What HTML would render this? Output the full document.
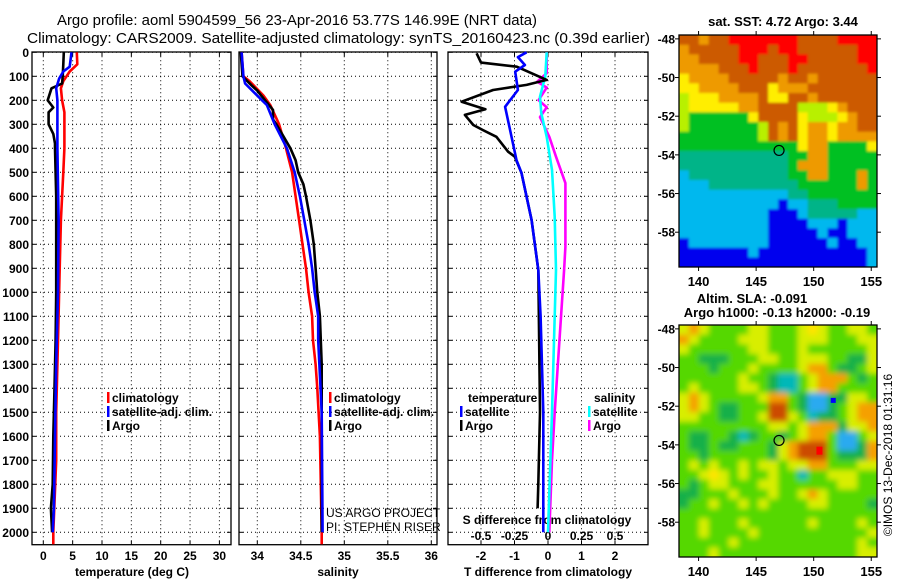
<!DOCTYPE html>
<html><head><meta charset="utf-8"><style>
html,body{margin:0;padding:0;background:#fff;}
svg{display:block;font-family:"Liberation Sans",Arial,sans-serif;}
.t{font-weight:bold;font-size:12px;fill:#000;}
</style></head><body>
<svg id="chart" width="900" height="580" viewBox="0 0 900 580" xmlns="http://www.w3.org/2000/svg">
<defs>
<filter id="blurS" x="-5%" y="-5%" width="110%" height="110%"><feGaussianBlur stdDeviation="1.2"/></filter>
<filter id="blurL" x="-5%" y="-5%" width="110%" height="110%"><feGaussianBlur stdDeviation="3"/></filter>
<clipPath id="clip1"><rect x="679" y="35" width="198" height="232"/></clipPath>
<clipPath id="clip2"><rect x="679" y="325" width="198" height="232"/></clipPath>
</defs>
<rect width="900" height="580" fill="#fff"/>
<text x="57" y="25" font-size="15" textLength="480" lengthAdjust="spacingAndGlyphs">Argo profile: aoml 5904599_56 23-Apr-2016 53.77S 146.99E (NRT data)</text>
<text x="27" y="43" font-size="15" textLength="623" lengthAdjust="spacingAndGlyphs">Climatology: CARS2009. Satellite-adjusted climatology: synTS_20160423.nc (0.39d earlier)</text>
<g id="g"></g>
</svg>
<script>
// ---- data ----
const depthTicks=[0,100,200,300,400,500,600,700,800,900,1000,1100,1200,1300,1400,1500,1600,1700,1800,1900,2000];
const tTicks=[0,5,10,15,20,25,30];
const sTicks=[34,34.5,35,35.5,36];
const dtTicks=[-2,-1,0,1,2];
const dsTicks=[-0.5,-0.25,0,0.25,0.5];
const dsTickLabels=["-0.5","-0.25","0","0.25","0.5"];

const argoTdepth=[0,50,100,130,150,180,200,230,250,280,300,340,380,400,600,800,1000,1200,1400,1600,1800,1900,2000];
const argoT=[3.5,3.4,3.3,3.2,1.4,1.0,0.75,1.7,0.9,0.9,0.9,1.7,2.0,2.0,2.2,2.2,2.2,2.1,1.9,1.7,1.6,1.3,1.5];
const climTdepth=[0,50,80,120,150,200,250,400,500,700,900,1200,1500,1700,2000,2050];
const climT=[5.7,5.8,4.5,3.4,3.0,3.2,3.6,3.6,3.4,3.0,2.8,2.5,2.2,2.2,1.7,1.7];
const satTdepth=[0,60,80,110,150,200,400,700,1000,1300,1600,1900,2000];
const satT=[4.8,4.5,3.4,2.7,2.2,2.4,2.4,2.6,2.5,2.2,2.0,1.8,1.6];

const climSdepth=[0,100,120,180,220,300,400,500,600,700,800,900,1000,1100,1200,1300,1400,1600,2000,2050];
const climS=[33.82,33.84,33.91,34.07,34.15,34.25,34.33,34.40,34.44,34.48,34.52,34.56,34.59,34.63,34.64,34.67,34.69,34.72,34.74,34.74];
const satSdepth=[0,100,130,170,220,300,400,500,600,700,800,900,1000,1100,1200,1500,2000];
const satS=[33.82,33.84,33.86,33.97,34.11,34.20,34.34,34.43,34.49,34.54,34.59,34.63,34.66,34.70,34.70,34.74,34.75];
const argoSdepth=[0,100,140,160,200,240,280,300,350,400,450,500,550,600,700,800,900,1000,1100,1300,1500,2000];
const argoS=[33.81,33.83,33.94,34.00,34.09,34.18,34.18,34.22,34.30,34.38,34.44,34.47,34.53,34.56,34.61,34.65,34.67,34.69,34.72,34.74,34.74,34.74];

const dTargoDepth=[4,43,60,115,136,157,206,237,261,303,324,352,414,435,503,699,907,1500,1800,1900];
const dTargo=[-2.13,-2.0,-0.93,-0.04,-0.64,-1.64,-2.58,-1.87,-2.48,-2.23,-1.94,-1.54,-1.19,-0.99,-0.79,-0.49,-0.29,-0.24,-0.29,-0.31];
const dTsatDepth=[0,20,53,81,157,227,324,449,503,699,907,1100,1500,2000];
const dTsat=[-0.64,-0.9,-0.69,-0.98,-0.9,-1.28,-1.13,-0.94,-0.79,-0.49,-0.29,-0.22,-0.14,-0.14];
const dSsatDepth=[0,100,185,254,352,490,685,907,1500,2000];
const dSsat=[-0.01,-0.02,-0.06,-0.05,-0.01,0.03,0.05,0.06,0.03,0.0];
const dSargoDepth=[0,87,122,147,199,229,270,352,435,545,810,907,1500,1700,2000];
const dSargo=[-0.01,-0.01,-0.08,-0.01,-0.07,-0.01,-0.06,0.01,0.06,0.13,0.13,0.12,0.05,0.03,0.01];

const lonTicks=[140,145,150,155];
const latTicks=[-48,-50,-52,-54,-56,-58];
const floatLon=146.99, floatLat=-53.77;
const sstRows=[
"ooaoorrrrrrroooorrrr","aooooorrrorroooooorr","aaoooorrooorrooooorr","aaaaooorooorooooooor",
"yaaaaoooooaooaoooooo","yyaaaaoooyaaaooooooo","lyyyaaaaoyyooaoooooo","lyyyyyaaoooolllyaooo",
"lggggggyooooylllyaoo","lgggggggloaoyaayaaoo","ggggggggloaoyaayaaaa","ggggggggggggyaaggggy",
"tttttttttttggaaggggg","tttttttttttgaaaggggg","cttttttttttggaagggag","ccctttttttttggggggag",
"cccccccccccttggggggg","ccccccccccbcctttgggg","cccccccccbbbctttttcc","cccccccccbbbbcccbccc",
"cccccccccbbbbbcbbccc","bccccccccbbbbbbcbbcc","bbbbbbbcbbbbbbbbbbbc","bbbbbbbbbbbbbbbbbbbc"];
const slaRows=[
"yoyggggyygggyYyggyyg","oyggggyyygggyyygggyy","yggggggyygggyggggggy","ggdddgggyyggyyyggddy",
"gggdgggyggggyoogddgy","ggggggyggdccgyooogdg","gyggggyygdccgyoogggg","yoygggggyoogdbbddyyg",
"yoygddgggrrgdbbdgyoo","yyggddggyrrygcddgyoo","gggggggggyygyooodyyo","gddggdcdggdgyoogbbgy",
"gddgddgggdyorrrgbbdo","ggdggggggdyorrrgdddo","gygyggygyygyyoogggyy","ggyYygyggyggcggyyygg",
"gdgyygggyyggggggyygg","ddgggygggyggyoyggggg","dggyggygyggggyyggggd","gggggggggggggggggggg",
"ggygggyggggggyggggyg","ggyggggygggggggggggy","gggggyggggggggggggyg","gggyggggggggggggggyy"];
const slaBlueDot=[151.7,-51.7], slaRedDot=[150.5,-54.3];

// ---- drawing ----
const NS="http://www.w3.org/2000/svg";
const G=document.getElementById('g');
function el(tag,attrs,parent){const e=document.createElementNS(NS,tag);for(const k in attrs)e.setAttribute(k,attrs[k]);(parent||G).appendChild(e);return e;}
const Y0=52.3, Yb=545, yD=d=>Y0+d*0.24;
const xT=t=>43.3+t*5.87, xS=s=>257.3+(s-34)*87, xdT=t=>548+t*33.5, xdS=s=>548+s*134;
const panels=[{x0:32,x1:231,name:'temperature-panel'},{x0:239,x1:437,name:'salinity-panel'},{x0:448,x1:648,name:'difference-panel'}];
function grid(p,xs){
  depthTicks.forEach(d=>{const l=el('line',{x1:p.x0,x2:p.x1,y1:yD(d),y2:yD(d),stroke:'#000','stroke-width':1,'stroke-dasharray':'1,3'});
  
  el('line',{x1:p.x0,x2:p.x0+4,y1:yD(d),y2:yD(d),stroke:'#000'});el('line',{x1:p.x1-4,x2:p.x1,y1:yD(d),y2:yD(d),stroke:'#000'});});
  xs.forEach(x=>{const l=el('line',{x1:x,x2:x,y1:Y0,y2:Yb,stroke:'#000','stroke-width':1,'stroke-dasharray':'1,3'});
  
  el('line',{x1:x,x2:x,y1:Yb-4,y2:Yb,stroke:'#000'});el('line',{x1:x,x2:x,y1:Y0,y2:Y0+4,stroke:'#000'});});
  const r=el('rect',{x:p.x0,y:Y0-0.3,width:p.x1-p.x0,height:Yb-Y0,fill:'none',stroke:'#000','stroke-width':1.3});
  
}
grid(panels[0],tTicks.map(xT));grid(panels[1],sTicks.map(xS));grid(panels[2],dtTicks.map(xdT));
function txt(x,y,s,anchor,name,extra){const t=el('text',Object.assign({x:x,y:y,'text-anchor':anchor||'middle',class:'t'},extra||{}));t.textContent=s;
  return t;}
depthTicks.forEach(d=>txt(29,yD(d)+4.5,String(d),'end','depth-tick-label'));
tTicks.forEach(t=>txt(xT(t),560,String(t),'middle','temperature-tick-label'));
sTicks.forEach(s=>txt(xS(s),560,String(s),'middle','salinity-tick-label'));
dtTicks.forEach(t=>txt(xdT(t),560,String(t),'middle','t-diff-tick-label'));
dsTicks.forEach((s,i)=>txt(xdS(s),540,dsTickLabels[i],'middle','s-diff-tick-label'));
txt(132,576,'temperature (deg C)','middle','x-axis-title-temperature');
txt(338,576,'salinity','middle','x-axis-title-salinity');
txt(548,576,'T difference from climatology','middle','x-axis-title-t-diff');
txt(547,524,'S difference from climatology','middle','x-axis-title-s-diff');
function line(xs,ds,fx,col,name){const pts=xs.map((v,i)=>fx(v).toFixed(1)+','+yD(ds[i]).toFixed(1)).join(' ');
  const p=el('polyline',{points:pts,fill:'none',stroke:col,'stroke-width':2.6,'stroke-linejoin':'round'});
  }
line(climT,climTdepth,xT,'#ff0000','climatology-temperature-line');
line(argoT,argoTdepth,xT,'#000','argo-temperature-line');
line(satT,satTdepth,xT,'#0000ff','satellite-temperature-line');
line(climS,climSdepth,xS,'#ff0000','climatology-salinity-line');
line(argoS,argoSdepth,xS,'#000','argo-salinity-line');
line(satS,satSdepth,xS,'#0000ff','satellite-salinity-line');
line(dSargo,dSargoDepth,xdS,'#ff00ff','argo-s-diff-line');
line(dSsat,dSsatDepth,xdS,'#00ffff','satellite-s-diff-line');
line(dTargo,dTargoDepth,xdT,'#000','argo-t-diff-line');
line(dTsat,dTsatDepth,xdT,'#0000ff','satellite-t-diff-line');
function legend(x,y,col,label,name){const g=el('g',{});
  el('rect',{x:x,y:y-10,width:2.5,height:11,fill:col},g);const t=el('text',{x:x+5,y:y,class:'t'},g);t.textContent=label;}
[[107,'#ff0000','climatology'],[107,'#0000ff','satellite-adj. clim.'],[107,'#000','Argo']].forEach((a,i)=>legend(a[0],402+i*14,a[1],a[2],'legend-entry'));
[[329,'#ff0000','climatology'],[329,'#0000ff','satellite-adj. clim.'],[329,'#000','Argo']].forEach((a,i)=>legend(a[0],402+i*14,a[1],a[2],'legend-entry'));
txt(468,402,'temperature','start','legend-title-temperature');
legend(460,416,'#0000ff','satellite','legend-entry');legend(460,430,'#000','Argo','legend-entry');
txt(594,402,'salinity','start','legend-title-salinity');
legend(588,416,'#00ffff','satellite','legend-entry');legend(588,430,'#ff00ff','Argo','legend-entry');
txt(326,517,'US ARGO PROJECT','start','credit-project',{style:'font-weight:normal'});
txt(326,531,'PI: STEPHEN RISER','start','credit-pi',{style:'font-weight:normal'});

// maps
const lonMin=138.3,lonMax=155.5,latTop=-47.8,latBot=-59.8;
const sstPal={r:'#ff0000',o:'#cc5a00',a:'#ee9a00',y:'#ffee00',l:'#b8f000',g:'#00c020',t:'#00b488',c:'#00b8ee',b:'#0000ee'};
const slaPal={g:'#55d800',d:'#18b048',y:'#d8ee00',Y:'#ffe400',o:'#f5a000',r:'#cc4c00',c:'#00b8b8',b:'#2aaaf0'};
function map(x0,y0,w,h,rows,pal,name,filt,clip){
  const gx=lon=>x0+(lon-lonMin)/(lonMax-lonMin)*w, gy=lat=>y0+(latTop-lat)/(latTop-latBot)*h;
  const outer=el('g',{'clip-path':'url(#'+clip+')'});
  const g=el('g',{filter:'url(#'+filt+')'},outer);
  const nr=rows.length,nc=rows[0].length,cw=w/nc,ch=h/nr;
  rows.forEach((row,i)=>{for(let j=0;j<nc;j++){
    const ex=(j===0?-8:0), ey=(i===0?-8:0), ew=(j===nc-1?8:0), eh=(i===nr-1?8:0);
    const c=el('rect',{x:(x0+j*cw+ex).toFixed(1),y:(y0+i*ch+ey).toFixed(1),width:(cw+0.6-ex+ew).toFixed(1),height:(ch+0.6-ey+eh).toFixed(1),fill:pal[row[j]]},g);
    }});
  el('rect',{x:x0,y:y0,width:w,height:h,fill:'none',stroke:'#000','stroke-width':1.3});
  lonTicks.forEach(l=>{const x=gx(l);el('line',{x1:x,x2:x,y1:y0-4,y2:y0,stroke:'#000'});el('line',{x1:x,x2:x,y1:y0+h,y2:y0+h+4,stroke:'#000'});
    txt(x,y0+h+19,String(l),'middle','map-lon-label',{style:'font-size:13px'});});
  latTicks.forEach(l=>{const y=gy(l);el('line',{x1:x0-4,x2:x0,y1:y,y2:y,stroke:'#000'});el('line',{x1:x0+w,x2:x0+w+4,y1:y,y2:y,stroke:'#000'});
    txt(x0-4,y+4.5,String(l),'end','map-lat-label');});
  return {gx,gy};
}
const m1=map(679,35,198,232,sstRows,sstPal,'sst-map','blurS','clip1');
let c=el('circle',{cx:m1.gx(floatLon),cy:m1.gy(floatLat),r:5,fill:'none',stroke:'#000','stroke-width':1.2});

const m2=map(679,325,198,232,slaRows,slaPal,'sla-map','blurL','clip2');
el('rect',{x:m2.gx(slaBlueDot[0])-2.5,y:m2.gy(slaBlueDot[1])-2.5,width:5,height:5,fill:'#0000ff'});
el('rect',{x:m2.gx(slaRedDot[0])-3,y:m2.gy(slaRedDot[1])-4,width:6,height:8,fill:'#ff0000'});
c=el('circle',{cx:m2.gx(floatLon),cy:m2.gy(floatLat),r:5,fill:'none',stroke:'#000','stroke-width':1.2});

txt(783,26,'sat. SST: 4.72 Argo: 3.44','middle','sst-map-title',{style:'font-size:13px'});
txt(752,303,'Altim. SLA: -0.091','middle','sla-map-title',{style:'font-size:13px'});
txt(777,317,'Argo h1000: -0.13 h2000: -0.19','middle','sla-map-subtitle',{style:'font-size:13px'});
txt(892,455,'©IMOS 13-Dec-2018 01:31:16','middle','timestamp',{transform:'rotate(-90 892 455)',style:'font-weight:normal;font-size:12px'});
</script>
</body></html>
